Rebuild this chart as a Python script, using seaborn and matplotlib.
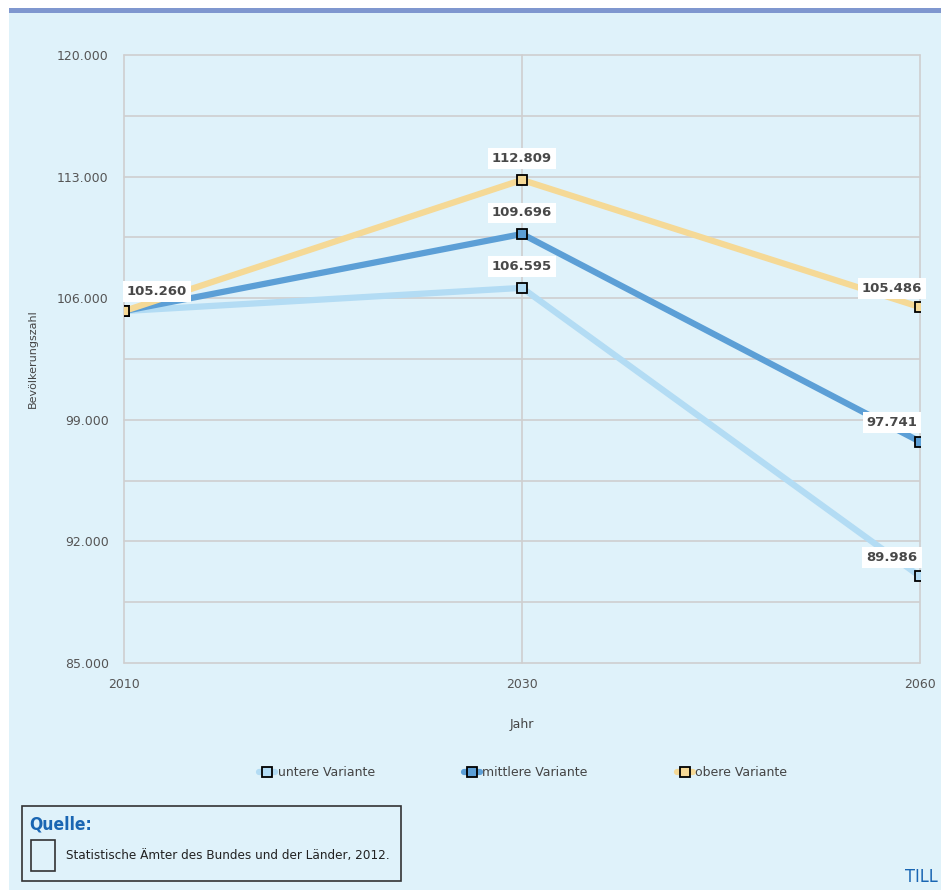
import pandas as pd
import matplotlib.pyplot as plt
import seaborn as sns
from matplotlib.patches import Rectangle
from matplotlib.lines import Line2D
from matplotlib.ticker import FuncFormatter

# Daten
jahre = ['2010', '2030', '2060']
untere = [105260, 106595, 89986]
mittlere = [105260, 109696, 97741]
obere = [105260, 112809, 105486]
varianten = ['untere Variante', 'mittlere Variante', 'obere Variante']
farben = ['#b3dcf4', '#5c9fd6', '#f5d996']
y_ticks = [85000, 92000, 99000, 106000, 113000, 120000]
y_minor = [88500, 95500, 102500, 109500, 116500]

df = pd.DataFrame({
    'Jahr': jahre * 3,
    'Wert': untere + mittlere + obere,
    'Variante': [v for v in varianten for _ in jahre],
})

sns.set_style('white')
plt.rcParams['font.family'] = ['DejaVu Sans']

W, H = 941, 890
fig = plt.figure(figsize=(W / 100, H / 100), dpi=100)
fig.patch.set_facecolor('white')
# Hintergrund und blaue Leiste oben
fig.patches.append(Rectangle((9 / W, 0), 1, (H - 13) / H, transform=fig.transFigure,
                             facecolor='#dff2fa', edgecolor='none', zorder=-10))
fig.patches.append(Rectangle((9 / W, (H - 13) / H), 1, 5 / H, transform=fig.transFigure,
                             facecolor='#7f97cf', edgecolor='none', zorder=-10))

ax = fig.add_axes([124 / W, (H - 663) / H, (920 - 124) / W, (663 - 55) / H])
ax.set_facecolor('none')

sns.lineplot(data=df, x='Jahr', y='Wert', hue='Variante', palette=farben,
             hue_order=varianten, sort=False, linewidth=4.5, marker='s',
             markersize=7, markeredgecolor='black', markeredgewidth=1.3,
             legend=False, ax=ax)

ax.set_xlim(0, 2)
ax.set_ylim(85000, 120000)
ax.set_yticks(y_ticks)
ax.set_yticks(y_minor, minor=True)
ax.yaxis.set_major_formatter(FuncFormatter(lambda v, p: f'{int(v):,}'.replace(',', '.')))
ax.grid(True, which='both', axis='y', color='#cfcfcf', linewidth=1.2)
ax.grid(True, which='major', axis='x', color='#cfcfcf', linewidth=1.2)
for gl in ax.get_xgridlines() + ax.get_ygridlines():
    gl.set_clip_on(False)
for s in ax.spines.values():
    s.set_visible(False)
ax.tick_params(axis='both', which='both', length=8, color='#cfcfcf', width=1.2,
               labelsize=9, labelcolor='#555555', pad=3)
ax.tick_params(axis='y', which='minor', length=6)
ax.set_xlabel('Jahr', fontsize=9, color='#444444', labelpad=19)
ax.set_ylabel('Bevölkerungszahl', fontsize=8, color='#444444', labelpad=14)
ax.set_axisbelow(True)

# Datenbeschriftungen
def beschriftung(x, y, text, dx, dy):
    ax.annotate(text, (x, y), xytext=(dx, dy), textcoords='offset pixels',
                ha='center', va='center', fontsize=9.5, fontweight='bold',
                color='#484848', annotation_clip=False,
                bbox=dict(boxstyle='square,pad=0.3', facecolor='white',
                          edgecolor='none'))

beschriftung(0, untere[0], '105.260', 33, 20)
for serie in (untere, mittlere, obere):
    beschriftung(1, serie[1], f'{serie[1]:,}'.replace(',', '.'), 0, 21)
    beschriftung(2, serie[2], f'{serie[2]:,}'.replace(',', '.'), -28, 19)

# Legende
handles = [Line2D([0], [0], color=c, linewidth=4.5, marker='s', markersize=7,
                  markerfacecolor=c, markeredgecolor='black', markeredgewidth=1.3)
           for c in farben]
fig.legend(handles, varianten, loc='center', bbox_to_anchor=(0.556, 1 - 773 / H),
           ncol=3, frameon=False, handlelength=1.3, handletextpad=0.2,
           columnspacing=7.1, fontsize=9, labelcolor='#444444')

# Quellenkasten
fig.patches.append(Rectangle((22 / W, (H - 881) / H), (401 - 22) / W, (881 - 806) / H,
                             transform=fig.transFigure, facecolor='none',
                             edgecolor='#333333', linewidth=1.2))
fig.patches.append(Rectangle((31 / W, (H - 871) / H), 24 / W, 31 / H,
                             transform=fig.transFigure, facecolor='none',
                             edgecolor='#333333', linewidth=1.2))
fig.text(29 / W, 1 - 825 / H, 'Quelle:', fontsize=12.5, fontweight='bold',
         color='#1a66b3', va='center', fontstretch='condensed')
fig.text(66 / W, 1 - 856 / H, 'Statistische Ämter des Bundes und der Länder, 2012.',
         fontsize=9.6, color='#222222', va='center', fontstretch='condensed')
fig.text(938 / W, 1 - 877 / H, 'TILL', fontsize=13, color='#1a66b3', va='center',
         ha='right', fontstretch='condensed')

fig.savefig('out.png', dpi=100, facecolor=fig.get_facecolor())
